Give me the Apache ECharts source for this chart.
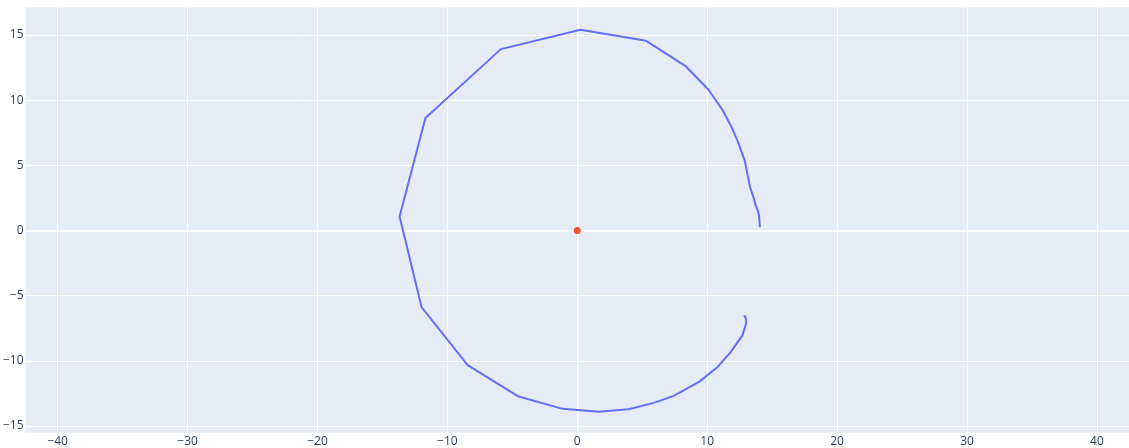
<!DOCTYPE html>
<html>
<head>
<meta charset="utf-8">
<script src="https://cdn.jsdelivr.net/npm/echarts@6/dist/echarts.min.js"></script>
<style>
html,body{margin:0;padding:0;background:#fff;}
#chart{width:1129px;height:448px;}
</style>
</head>
<body>
<div id="chart"></div>
<script>
// Trajectory points [x, y]
const pathX = [14.06, 13.98, 13.91, 13.73, 13.6, 13.3, 12.89, 12.33, 11.82, 11.18, 10.1, 8.31, 5.3, 0.25, -5.88, -11.69, -13.68,
  -11.99, -8.44, -4.58, -1.13, 1.65, 3.95, 5.89, 7.42, 9.4, 10.8, 11.82, 12.71, 12.99, 13.0, 12.84];
const pathY = [0.25, 1.2, 1.48, 1.92, 2.43, 3.32, 5.36, 6.9, 8.05, 9.25, 10.8, 12.64, 14.56, 15.4, 13.92, 8.64, 1.07,
  -5.88, -10.34, -12.72, -13.69, -13.92, -13.72, -13.23, -12.69, -11.6, -10.47, -9.32, -8.05, -7.15, -6.8, -6.51];
const centerX = [0];
const centerY = [0];
const xTicks = [-40, -30, -20, -10, 0, 10, 20, 30, 40];
const yTicks = [-15, -10, -5, 0, 5, 10, 15];

const pathData = pathX.map((x, i) => [x, pathY[i]]);
const centerData = centerX.map((x, i) => [x, centerY[i]]);
const minusFmt = v => String(v).replace('-', '\u2212');
const font = {color: '#2a3f5f', fontFamily: 'Open Sans', fontSize: 12};

const chart = echarts.init(document.getElementById('chart'), null, {renderer: 'canvas'});
chart.setOption({
  animation: false,
  backgroundColor: '#ffffff',
  grid: {left: 23, right: 0, top: 7.3, bottom: 15.3, show: true, backgroundColor: '#E5ECF6', borderWidth: 0},
  xAxis: {
    type: 'value', min: -42.47, max: 42.47,
    axisLine: {show: false},
    axisTick: {show: false, customValues: xTicks},
    axisLabel: Object.assign({customValues: xTicks, margin: 3, formatter: minusFmt}, font),
    splitLine: {show: true, lineStyle: {color: '#ffffff', width: 1}}
  },
  yAxis: {
    type: 'value', min: -15.52, max: 17.13,
    axisLine: {show: false},
    axisTick: {show: false, customValues: yTicks},
    axisLabel: Object.assign({customValues: yTicks, margin: 2, formatter: minusFmt}, font),
    splitLine: {show: true, lineStyle: {color: '#ffffff', width: 1}}
  },
  series: [
    {
      type: 'line', data: [], z: 1, silent: true,
      markLine: {
        z: 1, silent: true, symbol: 'none', label: {show: false},
        lineStyle: {color: '#ffffff', width: 2, type: 'solid'},
        data: [{xAxis: 0}, {yAxis: 0}]
      }
    },
    {
      type: 'line', data: pathData, z: 3,
      showSymbol: false, smooth: false,
      lineStyle: {color: '#636EFA', width: 2}
    },
    {
      type: 'scatter', data: centerData, z: 4,
      symbol: 'circle', symbolSize: 7,
      itemStyle: {color: '#EF553B', opacity: 1}
    }
  ]
});
</script>
</body>
</html>
